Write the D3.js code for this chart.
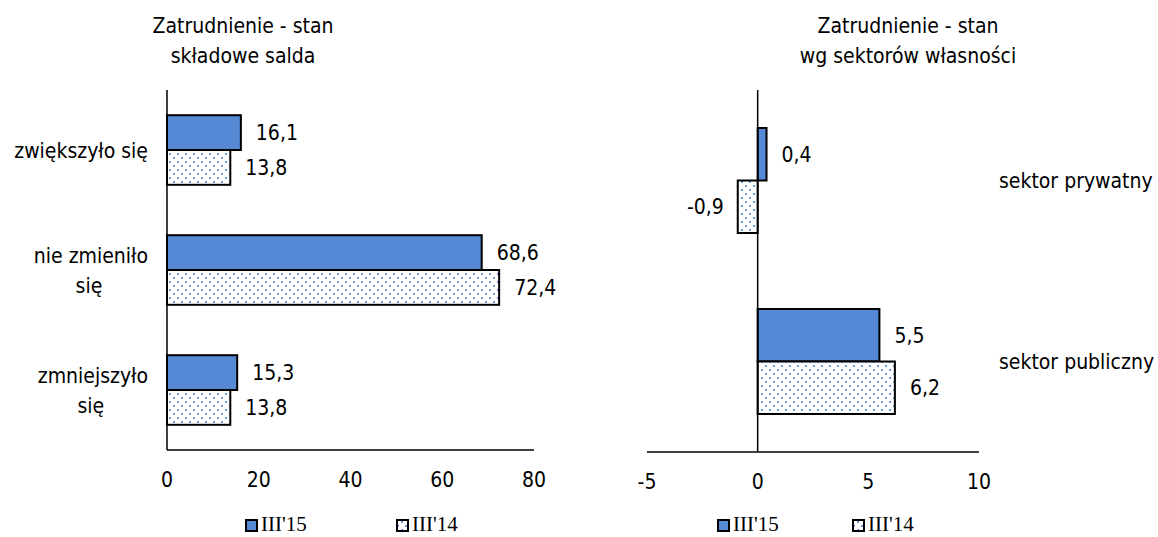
<!DOCTYPE html>
<html>
<head>
<meta charset="utf-8">
<script src="https://cdn.jsdelivr.net/npm/d3@7"></script>
<style>
  body { margin: 0; background: #fff; }
  svg text { font-family: Tahoma, "DejaVu Sans Condensed", "DejaVu Sans", sans-serif; font-size: 21px; fill: #000; }
  svg text.legend { font-family: "Liberation Serif", "Times New Roman", serif; font-size: 21px; }
</style>
</head>
<body>
<svg id="chart" width="1158" height="537"></svg>
<script>
// left panel: składowe salda
const leftCats = ['zwiększyło się', 'nie zmieniło się', 'zmniejszyło się'];
const leftCatLines = [['zwiększyło się'], ['nie zmieniło', 'się'], ['zmniejszyło', 'się']];
const left15 = [16.1, 68.6, 15.3];
const left14 = [13.8, 72.4, 13.8];
const leftTicks = [0, 20, 40, 60, 80];

// right panel: wg sektorów własności
const rightCats = ['sektor prywatny', 'sektor publiczny'];
const right15 = [0.4, 5.5];
const right14 = [-0.9, 6.2];
const rightTicks = [-5, 0, 5, 10];

const seriesNames = ["III'15", "III'14"];
const fmt = v => String(v).replace('.', ',');

const svg = d3.select('#chart');
const blue = '#5589d6';

// dotted pattern for III'14
const defs = svg.append('defs');
const pat = defs.append('pattern')
    .attr('id', 'dots')
    .attr('patternUnits', 'userSpaceOnUse')
    .attr('width', 8).attr('height', 8);
pat.append('rect').attr('width', 8).attr('height', 8).attr('fill', '#fff');
pat.append('rect').attr('x', 1).attr('y', 1).attr('width', 2).attr('height', 2).attr('fill', '#6d9ade');
pat.append('rect').attr('x', 5).attr('y', 5).attr('width', 2).attr('height', 2).attr('fill', '#6d9ade');

function panel(opts) {
    const { cats, s15, s14, ticks, domain, xr, yr, title, pad, tx } = opts;
    const x = d3.scaleLinear().domain(domain).range(xr);
    const y = d3.scaleBand().domain(cats).range(yr).paddingInner(pad).paddingOuter(pad / 2);
    const g = svg.append('g');
    const bh = y.bandwidth() / 2;

    // titles
    title.forEach((t, i) => {
        g.append('text').attr('x', tx).attr('y', 33 + i * 30).attr('text-anchor', 'middle').text(t);
    });

    [s15, s14].forEach((vals, si) => {
        g.selectAll(null).data(vals).enter().append('rect')
            .attr('x', d => x(Math.min(0, d)))
            .attr('y', (d, i) => y(cats[i]) + si * bh)
            .attr('width', d => Math.abs(x(d) - x(0)))
            .attr('height', bh)
            .attr('fill', si === 0 ? blue : 'url(#dots)')
            .attr('stroke', '#000')
            .attr('stroke-width', 2);
        g.selectAll(null).data(vals).enter().append('text')
            .attr('x', d => d < 0 ? x(d) - 14 : x(d) + 15)
            .attr('y', (d, i) => y(cats[i]) + si * bh + bh / 2)
            .attr('dy', '0.36em')
            .attr('text-anchor', d => d < 0 ? 'end' : 'start')
            .text(d => fmt(d));
    });

    // axes
    const axisY = yr[1];
    g.append('line').attr('x1', xr[0]).attr('x2', xr[1]).attr('y1', axisY).attr('y2', axisY)
        .attr('stroke', '#000').attr('stroke-width', 1.5);
    g.append('line').attr('x1', x(0)).attr('x2', x(0)).attr('y1', yr[0]).attr('y2', axisY)
        .attr('stroke', '#000').attr('stroke-width', 1.5);
    g.selectAll(null).data(ticks).enter().append('text')
        .attr('x', d => x(d)).attr('y', axisY + 37)
        .attr('text-anchor', 'middle')
        .text(d => d);
    return { x, y, g };
}

const L = panel({
    cats: leftCats, s15: left15, s14: left14, ticks: leftTicks, domain: [0, 80],
    xr: [167, 534], yr: [90, 450], pad: 0.42, tx: 243, title: ['Zatrudnienie - stan', 'składowe salda']
});
leftCats.forEach((c, i) => {
    const lines = leftCatLines[i];
    const cy = L.y(c) + L.y.bandwidth() / 2;
    let centre = 0;
    lines.forEach((t, j) => {
        const el = L.g.append('text')
            .attr('y', cy + (j - (lines.length - 1) / 2) * 30 + 8)
            .text(t);
        if (j === 0) {
            el.attr('x', 148).attr('text-anchor', 'end');
            const b = el.node().getBBox();
            centre = b.x + b.width / 2;
        } else {
            el.attr('x', centre - 2).attr('text-anchor', 'middle');
        }
    });
});

const R = panel({
    cats: rightCats, s15: right15, s14: right14, ticks: rightTicks, domain: [-5, 10],
    xr: [647, 979], yr: [90, 452], pad: 0.42, tx: 908, title: ['Zatrudnienie - stan', 'wg sektorów własności']
});
rightCats.forEach(c => {
    R.g.append('text').attr('x', 999).attr('y', R.y(c) + R.y.bandwidth() / 2 + 7).text(c);
});

// legends
function legend(x0, x1) {
    [x0, x1].forEach((lx, i) => {
        svg.append('rect').attr('x', lx).attr('y', 520).attr('width', 11).attr('height', 11)
            .attr('fill', i === 0 ? blue : 'url(#dots)').attr('stroke', '#000').attr('stroke-width', 2);
        svg.append('text').attr('class', 'legend').attr('x', lx + 15).attr('y', 531).text(seriesNames[i]);
    });
}
legend(246, 397);
legend(718, 853);
</script>
</body>
</html>
